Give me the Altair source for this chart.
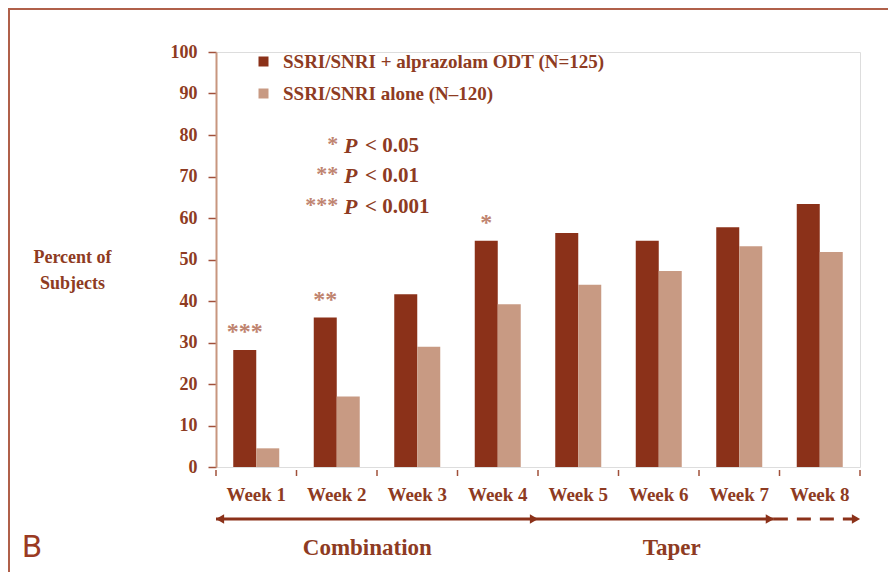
import altair as alt
import pandas as pd

# ---------------- data ----------------
weeks = ["Week 1", "Week 2", "Week 3", "Week 4", "Week 5", "Week 6", "Week 7", "Week 8"]
groups = ["SSRI/SNRI + alprazolam ODT (N=125)", "SSRI/SNRI alone (N–120)"]
combo_vals = [28.2, 36.0, 41.6, 54.5, 56.4, 54.5, 57.8, 63.4]
alone_vals = [4.5, 17.0, 29.0, 39.2, 43.9, 47.2, 53.2, 51.8]

sig_weeks = ["Week 1", "Week 2", "Week 4"]
sig_marks = ["***", "**", "*"]
sig_vals = [28.2, 36.0, 54.5]

key_stars = ["*", "**", "***"]
key_p = ["P", "P", "P"]
key_rest = ["< 0.05", "< 0.01", "< 0.001"]
key_y = [77.3, 70.1, 62.7]

phase_labels = ["Combination", "Taper"]
phase_pos = [1.88, 5.66]

seg_start = [0.0, 4.0, 6.93]
seg_end = [4.0, 6.93, 8.0]
seg_style = ["solid", "solid", "dashed"]
head_pos = [0.05, 3.95, 6.88, 7.95]
head_dir = ["left", "right", "right", "right"]
tick_pos = [0, 1, 2, 3, 4, 5, 6, 7, 8]

# ---------------- styling ----------------
DARK = "#8B3119"
LIGHT = "#C89A83"
TXT = "#8E3B22"
STAR = "#BF8470"
AXIS = "#C8967F"
SERIF = "'Liberation Serif', 'Times New Roman', 'DejaVu Serif', serif"
W, H = 644, 415

bars_df = pd.DataFrame({
    "week": weeks * 2,
    "group": [groups[0]] * len(weeks) + [groups[1]] * len(weeks),
    "value": combo_vals + alone_vals,
})
week_df = pd.DataFrame({"week": weeks})
sig_df = pd.DataFrame({"week": sig_weeks, "group": [groups[0]] * 3,
                       "value": sig_vals, "label": sig_marks})
key_df = pd.DataFrame({"stars": key_stars, "p": key_p, "rest": key_rest, "y": key_y,
                       "xs": [1.52] * 3, "xp": [1.59] * 3, "xr": [1.85] * 3})
phase_df = pd.DataFrame({"label": phase_labels, "pos": phase_pos})
seg_df = pd.DataFrame({"start": seg_start, "end": seg_end, "style": seg_style})
head_df = pd.DataFrame({"pos": head_pos, "dir": head_dir})
tick_df = pd.DataFrame({"pos": tick_pos})
one = pd.DataFrame({"a": [0]})

xnom = alt.Scale(domain=weeks, paddingInner=0, paddingOuter=0)
xoff = alt.Scale(domain=groups, paddingInner=0, paddingOuter=0.75)
yscale = alt.Scale(domain=[0, 100], nice=False)
xq = alt.Scale(domain=[0, 8], nice=False, zero=False)

bars = alt.Chart(bars_df).mark_bar().encode(
    x=alt.X("week:N", sort=weeks, scale=xnom, axis=None),
    xOffset=alt.XOffset("group:N", sort=groups, scale=xoff),
    y=alt.Y("value:Q", scale=yscale,
            axis=alt.Axis(values=list(range(0, 101, 10)), grid=False,
                          title=["Percent of", "Subjects"], titleAngle=0,
                          titleAlign="center", titleBaseline="top",
                          titleX=-144, titleY=196, titleLineHeight=26,
                          titleFont=SERIF, titleFontWeight="bold", titleFontSize=18,
                          titleColor=TXT,
                          labelFont=SERIF, labelFontWeight="bold", labelFontSize=18,
                          labelColor=TXT, labelPadding=11,
                          ticks=True, tickSize=8, tickColor="#A0503A", tickWidth=1.5,
                          domain=True, domainColor=AXIS, domainWidth=2)),
    color=alt.Color("group:N", sort=groups,
                    scale=alt.Scale(domain=groups, range=[DARK, LIGHT]),
                    legend=alt.Legend(title=None, orient="none", legendX=38, legendY=0,
                                      symbolType="square", symbolSize=100,
                                      symbolStrokeWidth=0, rowPadding=12,
                                      labelFont=SERIF, labelFontWeight="bold",
                                      labelFontSize=19, labelColor=TXT,
                                      labelOffset=10, labelLimit=500, padding=0)),
)

week_labels = alt.Chart(week_df).mark_text(
    font=SERIF, fontWeight="bold", fontSize=19, color=TXT, baseline="middle"
).encode(
    x=alt.X("week:N", sort=weeks, scale=xnom, axis=None),
    y=alt.value(H + 28),
    text="week:N",
)

stars = alt.Chart(sig_df).mark_text(
    font=SERIF, fontWeight="bold", fontSize=24, color=STAR, baseline="alphabetic", dy=-11
).encode(
    x=alt.X("week:N", sort=weeks, scale=xnom, axis=None),
    xOffset=alt.XOffset("group:N", sort=groups, scale=xoff),
    y=alt.Y("value:Q", scale=yscale),
    text="label:N",
)

main = alt.layer(bars, week_labels, stars)

key_star = alt.Chart(key_df).mark_text(
    font=SERIF, fontWeight="bold", fontSize=22, color=STAR, align="right", baseline="middle", dy=-2
).encode(x=alt.X("xs:Q", scale=xq, axis=None), y=alt.Y("y:Q", scale=yscale), text="stars:N")
key_pp = alt.Chart(key_df).mark_text(
    font=SERIF, fontWeight="bold", fontStyle="italic", fontSize=22, color=TXT,
    align="left", baseline="middle"
).encode(x=alt.X("xp:Q", scale=xq, axis=None), y=alt.Y("y:Q", scale=yscale), text="p:N")
key_r = alt.Chart(key_df).mark_text(
    font=SERIF, fontWeight="bold", fontSize=21, color=TXT, align="left", baseline="middle"
).encode(x=alt.X("xr:Q", scale=xq, axis=None), y=alt.Y("y:Q", scale=yscale), text="rest:N")

# category separator ticks below the baseline
ticks = alt.Chart(tick_df).mark_rule(color="#A0503A", strokeWidth=1.5).encode(
    x=alt.X("pos:Q", scale=xq, axis=None),
    y=alt.value(H + 3),
    y2=alt.value(H + 9),
)

segs = alt.Chart(seg_df).mark_rule(color=DARK, strokeWidth=3).encode(
    x=alt.X("start:Q", scale=xq, axis=None),
    x2="end:Q",
    y=alt.value(467),
    strokeDash=alt.StrokeDash("style:N", scale=alt.Scale(domain=["solid", "dashed"],
                                                          range=[[1, 0], [14, 9]]),
                              legend=None),
)

heads = alt.Chart(head_df).mark_point(filled=True, color=DARK, opacity=1, size=90).encode(
    x=alt.X("pos:Q", scale=xq, axis=None),
    y=alt.value(467),
    shape=alt.Shape("dir:N", scale=alt.Scale(domain=["left", "right"],
                                             range=["triangle-left", "triangle-right"]),
                    legend=None),
)

phases = alt.Chart(phase_df).mark_text(
    font=SERIF, fontWeight="bold", fontSize=23, color=TXT, baseline="middle"
).encode(x=alt.X("pos:Q", scale=xq, axis=None), y=alt.value(496), text="label:N")

border_top = alt.Chart(one).mark_rule(color="#B0604A", strokeWidth=2).encode(
    x=alt.value(-208), x2=alt.value(680), y=alt.value(-43))
border_left = alt.Chart(one).mark_rule(color="#B0604A", strokeWidth=2).encode(
    x=alt.value(-207), y=alt.value(-44), y2=alt.value(530))
letter_b = alt.Chart(one).mark_text(
    font="Roboto", fontSize=32, color="#9A3A22", align="center", baseline="middle"
).encode(x=alt.value(-184), y=alt.value(495), text=alt.value("B"))

overlay = alt.layer(key_star, key_pp, key_r, ticks, segs, heads, phases,
                    border_top, border_left, letter_b)

chart = alt.layer(main, overlay).resolve_scale(x="independent").properties(
    width=W, height=H,
    autosize=alt.AutoSizeParams(type="none"),
    padding={"left": 208, "top": 44, "right": 28, "bottom": 105},
).configure_view(stroke=None).configure(background="white").configure_axis(
    domain=False, ticks=False, grid=False
)

chart.save("out.html", embed_options={"renderer": "svg", "actions": False})
